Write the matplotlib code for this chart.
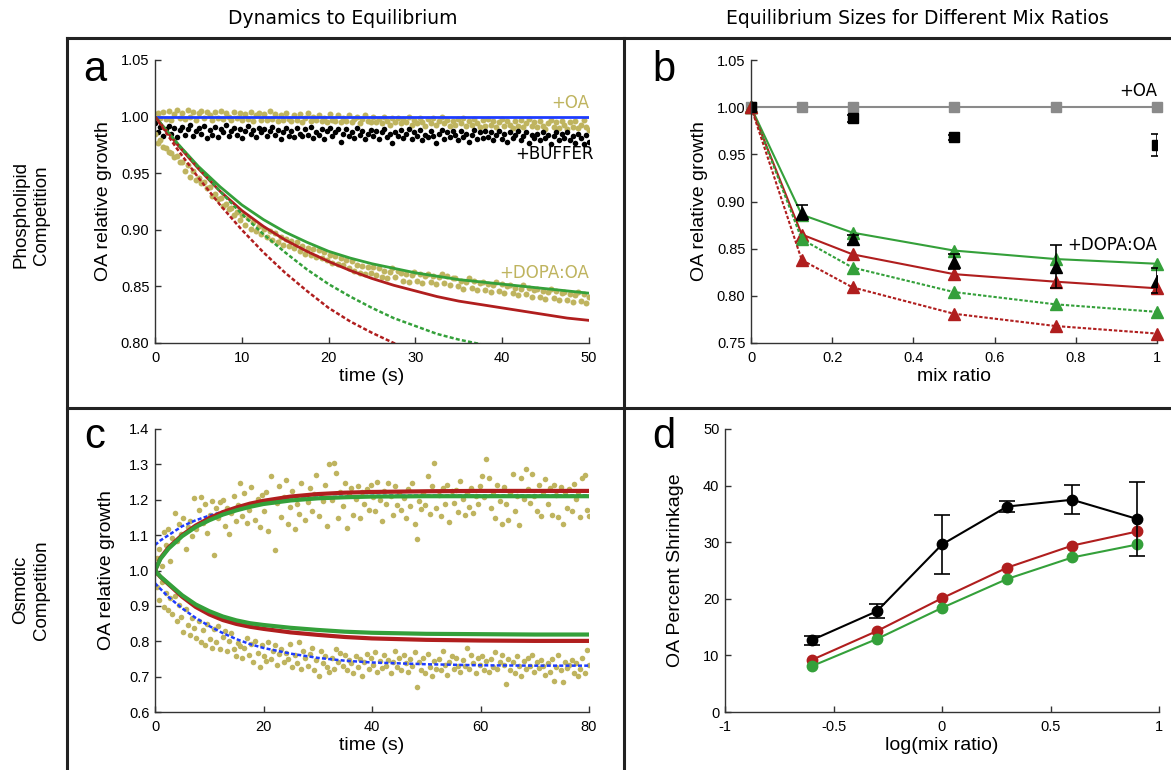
import numpy as np
import matplotlib
matplotlib.use("Agg")
import matplotlib.pyplot as plt
from matplotlib.lines import Line2D
from matplotlib.ticker import FormatStrFormatter

plt.rcParams["axes.unicode_minus"] = False
plt.rcParams["font.family"] = ["Liberation Sans", "DejaVu Sans"]

# ---------------- panel a : phospholipid competition, dynamics ----------------
t_fit_a = [0, 2.5, 5, 7.5, 10, 12.5, 15, 17.5, 20, 22.5, 25, 27.5, 30, 32.5, 35, 37.5, 40, 42.5, 45, 47.5, 50]
green_solid_a = [1.0, 0.977, 0.956, 0.938, 0.922, 0.909, 0.898, 0.889, 0.881, 0.875, 0.870, 0.866, 0.862,
                 0.859, 0.856, 0.854, 0.852, 0.850, 0.848, 0.846, 0.844]
red_solid_a = [1.0, 0.976, 0.954, 0.934, 0.917, 0.903, 0.891, 0.881, 0.872, 0.864, 0.857, 0.851, 0.846,
               0.841, 0.837, 0.834, 0.831, 0.828, 0.825, 0.822, 0.820]
green_dash_a = [1.0, 0.977, 0.955, 0.934, 0.914, 0.896, 0.880, 0.865, 0.852, 0.841, 0.831, 0.822, 0.815,
                0.808, 0.803, 0.799, 0.795]
red_dash_a = [1.0, 0.972, 0.946, 0.922, 0.900, 0.880, 0.862, 0.846, 0.831, 0.819, 0.809, 0.800, 0.792]

# measured traces (160 frames over 50 s)
oa_a = [0.996, 1.003, 0.999, 1.004, 0.998, 1.005, 0.997, 1.002, 1.006, 0.999,
        1.003, 0.998, 1.006, 1.000, 1.004, 0.997, 1.003, 1.005, 0.999, 1.004,
        1.001, 0.997, 1.004, 0.999, 1.005, 0.998, 1.003, 1.000, 0.997, 1.004,
        0.999, 1.003, 0.997, 1.002, 0.998, 1.004, 0.996, 1.001, 1.003, 0.997,
        1.002, 0.997, 1.005, 0.998, 1.002, 0.996, 1.001, 0.997, 1.003, 0.998,
        0.996, 1.001, 0.997, 1.002, 0.995, 0.999, 1.003, 0.996, 1.000, 0.997,
        1.001, 0.996, 0.999, 0.995, 1.002, 0.997, 0.996, 1.001, 0.995, 0.999,
        0.996, 1.001, 0.995, 0.998, 1.000, 0.994, 0.998, 1.001, 0.996, 0.995,
        1.000, 0.995, 0.998, 0.994, 1.000, 0.996, 0.993, 0.999, 0.995, 0.999,
        0.994, 0.998, 0.995, 1.000, 0.993, 0.997, 0.994, 0.999, 0.995, 0.992,
        0.998, 0.994, 0.999, 0.993, 0.996, 1.000, 0.994, 0.997, 0.992, 0.996,
        0.993, 0.998, 0.994, 0.999, 0.992, 0.996, 0.993, 0.998, 0.994, 0.991,
        0.997, 0.992, 0.998, 0.993, 0.996, 0.991, 0.995, 0.998, 0.992, 0.996,
        0.993, 0.990, 0.996, 0.992, 0.997, 0.991, 0.994, 0.998, 0.992, 0.995,
        0.991, 0.996, 0.992, 0.989, 0.994, 0.997, 0.991, 0.995, 0.990, 0.996,
        0.993, 0.989, 0.995, 0.991, 0.996, 0.990, 0.993, 0.997, 0.991, 0.988]
buffer_a = [0.994, 0.986, 0.991, 0.983, 0.989, 0.992, 0.985, 0.990, 0.982, 0.988,
            0.991, 0.984, 0.989, 0.993, 0.983, 0.987, 0.990, 0.985, 0.992, 0.981,
            0.988, 0.984, 0.991, 0.982, 0.989, 0.986, 0.993, 0.983, 0.987, 0.990,
            0.984, 0.989, 0.981, 0.987, 0.992, 0.985, 0.988, 0.982, 0.990, 0.986,
            0.989, 0.983, 0.987, 0.991, 0.984, 0.988, 0.980, 0.986, 0.990, 0.983,
            0.987, 0.982, 0.990, 0.985, 0.983, 0.989, 0.984, 0.991, 0.981, 0.986,
            0.984, 0.989, 0.980, 0.987, 0.990, 0.983, 0.986, 0.989, 0.978, 0.985,
            0.989, 0.983, 0.986, 0.981, 0.990, 0.984, 0.987, 0.980, 0.985, 0.988,
            0.983, 0.987, 0.980, 0.986, 0.989, 0.982, 0.985, 0.977, 0.986, 0.983,
            0.988, 0.981, 0.985, 0.989, 0.980, 0.986, 0.983, 0.988, 0.979, 0.984,
            0.982, 0.987, 0.983, 0.977, 0.985, 0.988, 0.980, 0.986, 0.982, 0.987,
            0.984, 0.979, 0.987, 0.982, 0.985, 0.978, 0.984, 0.988, 0.980, 0.986,
            0.981, 0.987, 0.982, 0.986, 0.979, 0.984, 0.987, 0.980, 0.985, 0.978,
            0.986, 0.981, 0.984, 0.987, 0.979, 0.983, 0.986, 0.977, 0.984, 0.981,
            0.985, 0.979, 0.986, 0.981, 0.984, 0.976, 0.983, 0.986, 0.979, 0.985,
            0.981, 0.986, 0.979, 0.983, 0.977, 0.985, 0.981, 0.976, 0.984, 0.978]
dopa_a = [0.985, 0.977, 0.979, 0.973, 0.972, 0.969, 0.968, 0.964, 0.965, 0.960,
          0.960, 0.952, 0.957, 0.947, 0.952, 0.944, 0.946, 0.941, 0.942, 0.937,
          0.938, 0.930, 0.932, 0.927, 0.928, 0.921, 0.923, 0.918, 0.919, 0.913,
          0.916, 0.909, 0.913, 0.904, 0.910, 0.901, 0.907, 0.899, 0.903, 0.896,
          0.901, 0.894, 0.899, 0.891, 0.897, 0.889, 0.894, 0.887, 0.892, 0.886,
          0.890, 0.884, 0.889, 0.881, 0.886, 0.879, 0.884, 0.878, 0.883, 0.876,
          0.882, 0.875, 0.880, 0.873, 0.878, 0.871, 0.877, 0.870, 0.875, 0.869,
          0.873, 0.866, 0.872, 0.864, 0.869, 0.862, 0.868, 0.861, 0.867, 0.862,
          0.867, 0.860, 0.866, 0.858, 0.864, 0.857, 0.863, 0.866, 0.858, 0.864,
          0.862, 0.855, 0.861, 0.854, 0.860, 0.863, 0.855, 0.861, 0.853, 0.859,
          0.861, 0.854, 0.859, 0.852, 0.858, 0.861, 0.853, 0.859, 0.851, 0.857,
          0.857, 0.850, 0.855, 0.848, 0.854, 0.857, 0.849, 0.855, 0.847, 0.853,
          0.854, 0.847, 0.852, 0.845, 0.851, 0.854, 0.846, 0.852, 0.844, 0.850,
          0.851, 0.844, 0.849, 0.842, 0.848, 0.851, 0.843, 0.849, 0.841, 0.847,
          0.848, 0.841, 0.846, 0.839, 0.845, 0.848, 0.840, 0.846, 0.838, 0.844,
          0.845, 0.838, 0.843, 0.836, 0.842, 0.845, 0.837, 0.843, 0.835, 0.841]
t_meas_a = np.linspace(0, 50, len(oa_a))  # frame times

# ---------------- panel b : equilibrium sizes vs mix ratio ----------------
mix = [0, 0.125, 0.25, 0.5, 0.75, 1]
oa_b = [1.0, 1.0, 1.0, 1.0, 1.0, 1.0]
green_solid_b = [1.0, 0.886, 0.867, 0.848, 0.839, 0.834]
red_solid_b = [1.0, 0.865, 0.844, 0.823, 0.815, 0.808]
green_dash_b = [1.0, 0.860, 0.830, 0.804, 0.791, 0.783]
red_dash_b = [1.0, 0.838, 0.809, 0.781, 0.768, 0.760]
buffer_x_b = [0, 0.25, 0.5, 1]
buffer_b = [1.0, 0.988, 0.968, 0.960]
buffer_err_b = [0.0, 0.004, 0.003, 0.012]
dopa_x_b = [0.125, 0.25, 0.5, 0.75, 1]
dopa_b = [0.888, 0.860, 0.836, 0.831, 0.816]
dopa_err_b = [0.008, 0.005, 0.008, 0.023, 0.013]

# ---------------- panel c : osmotic competition, dynamics ----------------
t_fit_c = [0, 1, 2.5, 5, 7.5, 10, 12.5, 15, 17.5, 20, 25, 30, 35, 40, 50, 60, 70, 80]
red_up_c = [1.0, 1.035, 1.065, 1.100, 1.127, 1.148, 1.165, 1.178, 1.189, 1.197, 1.209, 1.216, 1.220,
            1.222, 1.224, 1.225, 1.225, 1.225]
green_up_c = [1.0, 1.033, 1.062, 1.097, 1.123, 1.142, 1.158, 1.170, 1.180, 1.188, 1.198, 1.204, 1.207,
              1.209, 1.210, 1.210, 1.210, 1.210]
blue_up_c = [1.072, 1.085, 1.100, 1.125, 1.142, 1.155, 1.166, 1.176, 1.184, 1.190, 1.200, 1.206, 1.209,
             1.211, 1.212, 1.212, 1.212, 1.212]
red_lo_c = [1.0, 0.982, 0.961, 0.926, 0.897, 0.876, 0.860, 0.849, 0.841, 0.835, 0.825, 0.818, 0.812,
            0.808, 0.804, 0.802, 0.801, 0.801]
green_lo_c = [1.0, 0.983, 0.963, 0.930, 0.904, 0.885, 0.870, 0.859, 0.851, 0.846, 0.838, 0.832, 0.827,
              0.824, 0.821, 0.820, 0.819, 0.819]
blue_lo_c = [0.964, 0.948, 0.925, 0.893, 0.866, 0.843, 0.823, 0.806, 0.792, 0.781, 0.765, 0.753, 0.745,
             0.740, 0.735, 0.732, 0.731, 0.731]

up_c = [0.993, 1.034, 1.062, 1.012, 1.108, 1.071, 1.117, 1.028, 1.093, 1.163,
        1.084, 1.131, 1.102, 1.148, 1.061, 1.124, 1.139, 1.097, 1.204, 1.118,
        1.172, 1.207, 1.133, 1.189, 1.106, 1.158, 1.196, 1.043, 1.177, 1.149,
        1.193, 1.198, 1.127, 1.176, 1.104, 1.163, 1.212, 1.141, 1.186, 1.246,
        1.153, 1.218, 1.134, 1.172, 1.237, 1.187, 1.143, 1.203, 1.124, 1.213,
        1.168, 1.222, 1.113, 1.268, 1.196, 1.058, 1.191, 1.238, 1.152, 1.207,
        1.257, 1.131, 1.179, 1.226, 1.118, 1.188, 1.161, 1.248, 1.209, 1.142,
        1.194, 1.232, 1.168, 1.216, 1.271, 1.153, 1.208, 1.197, 1.241, 1.126,
        1.302, 1.199, 1.305, 1.277, 1.148, 1.223, 1.181, 1.246, 1.121, 1.214,
        1.234, 1.158, 1.202, 1.238, 1.149, 1.221, 1.188, 1.229, 1.171, 1.243,
        1.209, 1.167, 1.251, 1.198, 1.139, 1.226, 1.187, 1.247, 1.212, 1.158,
        1.238, 1.186, 1.219, 1.172, 1.206, 1.147, 1.229, 1.181, 1.247, 1.131,
        1.088, 1.197, 1.173, 1.218, 1.186, 1.268, 1.161, 1.239, 1.303, 1.176,
        1.213, 1.153, 1.232, 1.189, 1.241, 1.138, 1.224, 1.192, 1.228, 1.166,
        1.253, 1.201, 1.157, 1.218, 1.179, 1.234, 1.162, 1.211, 1.189, 1.238,
        1.268, 1.209, 1.314, 1.262, 1.178, 1.221, 1.148, 1.243, 1.196, 1.131,
        1.237, 1.188, 1.143, 1.219, 1.273, 1.169, 1.212, 1.129, 1.262, 1.201,
        1.287, 1.229, 1.192, 1.273, 1.211, 1.168, 1.242, 1.153, 1.221, 1.259,
        1.187, 1.233, 1.158, 1.241, 1.214, 1.151, 1.236, 1.132, 1.222, 1.176,
        1.231, 1.168, 1.244, 1.201, 1.223, 1.152, 1.262, 1.271, 1.171, 1.154]
lo_c = [0.992, 0.953, 0.918, 0.968, 0.896, 0.937, 0.887, 0.921, 0.876, 0.928,
        0.858, 0.903, 0.869, 0.827, 0.892, 0.846, 0.817, 0.866, 0.838, 0.808,
        0.857, 0.797, 0.831, 0.789, 0.848, 0.806, 0.781, 0.834, 0.798, 0.843,
        0.778, 0.812, 0.828, 0.772, 0.801, 0.823, 0.779, 0.758, 0.796, 0.787,
        0.752, 0.781, 0.808, 0.762, 0.793, 0.741, 0.801, 0.768, 0.727, 0.789,
        0.758, 0.743, 0.797, 0.751, 0.772, 0.788, 0.734, 0.763, 0.779, 0.742,
        0.768, 0.749, 0.792, 0.728, 0.761, 0.738, 0.798, 0.721, 0.773, 0.752,
        0.731, 0.763, 0.781, 0.719, 0.748, 0.703, 0.772, 0.739, 0.758, 0.727,
        0.712, 0.752, 0.722, 0.779, 0.741, 0.768, 0.729, 0.762, 0.718, 0.748,
        0.738, 0.709, 0.759, 0.728, 0.751, 0.701, 0.742, 0.763, 0.721, 0.754,
        0.732, 0.771, 0.713, 0.743, 0.724, 0.762, 0.731, 0.748, 0.709, 0.741,
        0.773, 0.728, 0.752, 0.719, 0.761, 0.738, 0.712, 0.749, 0.731, 0.769,
        0.671, 0.741, 0.718, 0.752, 0.711, 0.763, 0.728, 0.703, 0.744, 0.722,
        0.749, 0.718, 0.772, 0.733, 0.704, 0.742, 0.759, 0.721, 0.753, 0.731,
        0.713, 0.748, 0.729, 0.781, 0.722, 0.761, 0.739, 0.711, 0.752, 0.733,
        0.758, 0.719, 0.743, 0.712, 0.751, 0.728, 0.769, 0.721, 0.742, 0.762,
        0.733, 0.678, 0.749, 0.718, 0.741, 0.709, 0.758, 0.729, 0.702, 0.743,
        0.722, 0.753, 0.731, 0.761, 0.714, 0.742, 0.723, 0.748, 0.731, 0.704,
        0.739, 0.712, 0.751, 0.689, 0.728, 0.762, 0.719, 0.684, 0.741, 0.723,
        0.732, 0.748, 0.709, 0.739, 0.703, 0.721, 0.752, 0.711, 0.774, 0.733]
t_meas_c = np.linspace(0, 80, len(up_c))  # frame times

# ---------------- panel d : percent shrinkage vs log(mix ratio) ----------------
log_mix = [-0.6, -0.3, 0, 0.3, 0.6, 0.9]
shrink_exp = [12.7, 17.8, 29.6, 36.3, 37.5, 34.1]
shrink_err = [0.8, 1.2, 5.2, 0.9, 2.6, 6.5]
shrink_red = [9.2, 14.3, 20.1, 25.5, 29.4, 31.9]
shrink_green = [8.1, 12.9, 18.4, 23.5, 27.3, 29.6]

# ---------------- styles ----------------
OLIVE = "#bfb45f"
RED = "#b01e1e"
GREEN = "#34a03a"
BLUE = "#1e3cff"
GREY = "#8a8a8a"
DASH = (0, (1.6, 0.9))

W, H = 1171, 770
fig = plt.figure(figsize=(W / 100, H / 100), dpi=100)


def px_axes(x0, x1, ytop, ybot):
    return fig.add_axes([x0 / W, 1 - ybot / H, (x1 - x0) / W, (ybot - ytop) / H])


def style(ax):
    for s in ["top", "right"]:
        ax.spines[s].set_visible(False)
    for s in ["left", "bottom"]:
        ax.spines[s].set_color("#333333")
        ax.spines[s].set_linewidth(1.0)
    ax.tick_params(direction="in", length=4, width=1, color="#333333", labelsize=10.5)
    ax.tick_params(axis="y", pad=4)
    ax.tick_params(axis="x", pad=6)


ax_a = px_axes(155, 589, 60, 343)
ax_b = px_axes(751, 1157, 60, 343)
ax_c = px_axes(155, 589, 429, 712)
ax_d = px_axes(725, 1159, 429, 712)

# panel a
ax_a.plot(t_meas_a, oa_a, "o", ms=4.3, color=OLIVE, mec="none")
ax_a.plot(t_meas_a, buffer_a, "o", ms=4.0, color="black", mec="none")
ax_a.plot(t_meas_a, dopa_a, "o", ms=4.3, color=OLIVE, mec="none")
ax_a.plot([0, 50], [1.0, 1.0], color=BLUE, lw=2)
ax_a.plot(t_fit_a, green_solid_a, color=GREEN, lw=2)
ax_a.plot(t_fit_a, red_solid_a, color=RED, lw=2)
ax_a.plot(t_fit_a[:len(green_dash_a)], green_dash_a, color=GREEN, lw=1.8, ls=DASH)
ax_a.plot(t_fit_a[:len(red_dash_a)], red_dash_a, color=RED, lw=1.8, ls=DASH)
ax_a.set_xlim(0, 50)
ax_a.set_ylim(0.80, 1.05)
ax_a.set_xticks([0, 10, 20, 30, 40, 50])
ax_a.set_yticks([0.80, 0.85, 0.90, 0.95, 1.00, 1.05])
ax_a.yaxis.set_major_formatter(FormatStrFormatter("%.2f"))
ax_a.text(50, 1.004, "+OA", color=OLIVE, ha="right", va="bottom", fontsize=12, family="DejaVu Sans")
ax_a.text(50.5, 0.967, "+BUFFER", color="black", ha="right", va="center", fontsize=12, family="DejaVu Sans")
ax_a.text(50, 0.862, "+DOPA:OA", color=OLIVE, ha="right", va="center", fontsize=12, family="DejaVu Sans")
ax_a.set_xlabel("time (s)", fontsize=14, labelpad=2)
ax_a.set_ylabel("OA relative growth", fontsize=14, labelpad=6)

# panel b
ax_b.plot(mix, oa_b, "s-", color=GREY, ms=6.5, lw=1.5, clip_on=False)
ax_b.plot(mix, green_solid_b, "^-", color=GREEN, ms=8, lw=1.5, clip_on=False)
ax_b.plot(mix, red_solid_b, "^-", color=RED, ms=8, lw=1.5, clip_on=False)
ax_b.plot(mix, green_dash_b, "^", ls=DASH, color=GREEN, ms=8, lw=1.5, clip_on=False)
ax_b.plot(mix, red_dash_b, "^", ls=DASH, color=RED, ms=8, lw=1.5, clip_on=False)
ax_b.errorbar(buffer_x_b, buffer_b, yerr=buffer_err_b, fmt="s", color="black", ms=6.5,
              capsize=4.5, elinewidth=1.2, capthick=1.2)
ax_b.errorbar(dopa_x_b, dopa_b, yerr=dopa_err_b, fmt="^", color="black", ms=8,
              capsize=4.5, elinewidth=1.2, capthick=1.2)
ax_b.set_xlim(0, 1)
ax_b.set_ylim(0.75, 1.05)
ax_b.set_xticks([0, 0.2, 0.4, 0.6, 0.8, 1])
ax_b.set_xticklabels(["0", "0.2", "0.4", "0.6", "0.8", "1"])
ax_b.set_yticks([0.75, 0.80, 0.85, 0.90, 0.95, 1.00, 1.05])
ax_b.yaxis.set_major_formatter(FormatStrFormatter("%.2f"))
ax_b.text(1.0, 1.008, "+OA", color="black", ha="right", va="bottom", fontsize=12, family="DejaVu Sans")
ax_b.text(1.0, 0.854, "+DOPA:OA", color="black", ha="right", va="center", fontsize=12, family="DejaVu Sans")
ax_b.set_xlabel("mix ratio", fontsize=14, labelpad=2)
ax_b.set_ylabel("OA relative growth", fontsize=14, labelpad=6)

# panel c
ax_c.plot(t_meas_c, up_c, "o", ms=4.0, color=OLIVE, mec="none")
ax_c.plot(t_meas_c, lo_c, "o", ms=4.0, color=OLIVE, mec="none")
ax_c.plot(t_fit_c, blue_up_c, color=BLUE, lw=1.8, ls=DASH)
ax_c.plot(t_fit_c, blue_lo_c, color=BLUE, lw=1.8, ls=DASH)
ax_c.plot(t_fit_c, red_up_c, color=RED, lw=3)
ax_c.plot(t_fit_c, green_up_c, color=GREEN, lw=3)
ax_c.plot(t_fit_c, red_lo_c, color=RED, lw=3)
ax_c.plot(t_fit_c, green_lo_c, color=GREEN, lw=3)
ax_c.set_xlim(0, 80)
ax_c.set_ylim(0.6, 1.4)
ax_c.set_xticks([0, 20, 40, 60, 80])
ax_c.set_yticks([0.6, 0.7, 0.8, 0.9, 1.0, 1.1, 1.2, 1.3, 1.4])
ax_c.yaxis.set_major_formatter(FormatStrFormatter("%.1f"))
ax_c.set_xlabel("time (s)", fontsize=14, labelpad=2)
ax_c.set_ylabel("OA relative growth", fontsize=14, labelpad=10)

# panel d
ax_d.plot(log_mix, shrink_red, "o-", color=RED, ms=7.5, lw=1.5)
ax_d.plot(log_mix, shrink_green, "o-", color=GREEN, ms=7.5, lw=1.5)
ax_d.errorbar(log_mix, shrink_exp, yerr=shrink_err, fmt="o-", color="black", ms=7.5, lw=1.5,
              capsize=6, elinewidth=1.2, capthick=1.2)
ax_d.set_xlim(-1, 1)
ax_d.set_ylim(0, 50)
ax_d.set_xticks([-1, -0.5, 0, 0.5, 1])
ax_d.set_xticklabels(["-1", "-0.5", "0", "0.5", "1"])
ax_d.set_yticks([0, 10, 20, 30, 40, 50])
ax_d.set_xlabel("log(mix ratio)", fontsize=14, labelpad=2)
ax_d.set_ylabel("OA Percent Shrinkage", fontsize=14, labelpad=14)

for ax in (ax_a, ax_b, ax_c, ax_d):
    style(ax)

# panel letters
for letter, (x, y) in {"a": (95, 70), "b": (664, 70), "c": (95, 437), "d": (664, 437)}.items():
    fig.text(x / W, 1 - y / H, letter, fontsize=30, ha="center", va="center")

# column and row headings
fig.text(343 / W, 1 - 18 / H, "Dynamics to Equilibrium", fontsize=13.5, ha="center", va="center",
         family="DejaVu Sans")
fig.text(917 / W, 1 - 18 / H, "Equilibrium Sizes for Different Mix Ratios", fontsize=13.5, ha="center",
         va="center", family="DejaVu Sans")
fig.text(31 / W, 1 - 215 / H, "Phospholipid\nCompetition", rotation=90, fontsize=13.5, ha="center",
         va="center", linespacing=1.3)
fig.text(31 / W, 1 - 590 / H, "Osmotic\nCompetition", rotation=90, fontsize=13.5, ha="center",
         va="center", linespacing=1.3)

# panel frame
frame = dict(transform=fig.transFigure, color="#222222", lw=2.2)
fig.add_artist(Line2D([67 / W, 1], [1 - 38 / H, 1 - 38 / H], **frame))
fig.add_artist(Line2D([67 / W, 67 / W], [0, 1 - 38 / H], **frame))
fig.add_artist(Line2D([624 / W, 624 / W], [0, 1 - 38 / H], **frame))
fig.add_artist(Line2D([67 / W, 1], [1 - 408 / H, 1 - 408 / H], **frame))

fig.savefig("out.png", dpi=100)
